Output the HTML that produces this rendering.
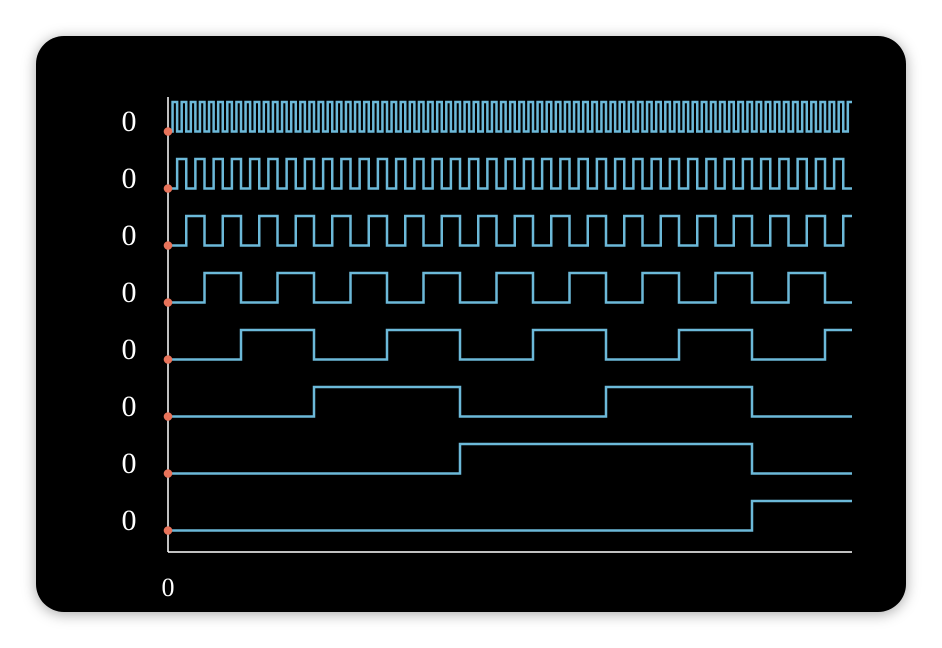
<!DOCTYPE html>
<html><head><meta charset="utf-8"><style>
html,body{margin:0;padding:0;background:#fff;width:942px;height:648px;overflow:hidden}
#card{position:absolute;left:36px;top:36px;width:870px;height:576px;background:#000;border-radius:28px;box-shadow:0 2px 14px rgba(0,0,0,0.35)}
svg{position:absolute;left:0;top:0}
</style></head><body>
<div id="card"></div>
<svg id="s" width="942" height="648" xmlns="http://www.w3.org/2000/svg">
<g font-family="Liberation Serif, serif" font-size="30" fill="#fff" text-anchor="middle">
<text x="129" y="131">0</text><text x="129" y="188">0</text><text x="129" y="245">0</text><text x="129" y="302">0</text>
<text x="129" y="359">0</text><text x="129" y="416">0</text><text x="129" y="473">0</text><text x="129" y="530">0</text>
<text x="168" y="596" font-size="26">0</text>
</g>
<line x1="168" y1="97" x2="168" y2="552" stroke="#fff" stroke-width="1.5"/>
<line x1="168" y1="552" x2="852" y2="552" stroke="#fff" stroke-width="1.5"/>
<g id="w" fill="none" stroke="#6cb9d9" stroke-width="2.5"></g>
<g id="d" fill="#e8735a"></g>
</svg>
<script>
var w=document.getElementById('w'),d=document.getElementById('d'),ns='http://www.w3.org/2000/svg';
var x0=168,x1=852,step=4.5625;
for(var i=0;i<8;i++){
  var low=131.5+57*i,high=low-29.5,hp=step*Math.pow(2,i);
  var p='M'+x0+' '+low,lvl=0,x=x0+hp;
  while(x<x1){lvl=1-lvl;var y=lvl?high:low;p+=' H'+x.toFixed(2)+' V'+y;x+=hp;}
  p+=' H'+x1;
  var e=document.createElementNS(ns,'path');e.setAttribute('d',p);w.appendChild(e);
  var c=document.createElementNS(ns,'circle');c.setAttribute('cx',168);c.setAttribute('cy',low);c.setAttribute('r',4.3);d.appendChild(c);
}
</script>
</body></html>
